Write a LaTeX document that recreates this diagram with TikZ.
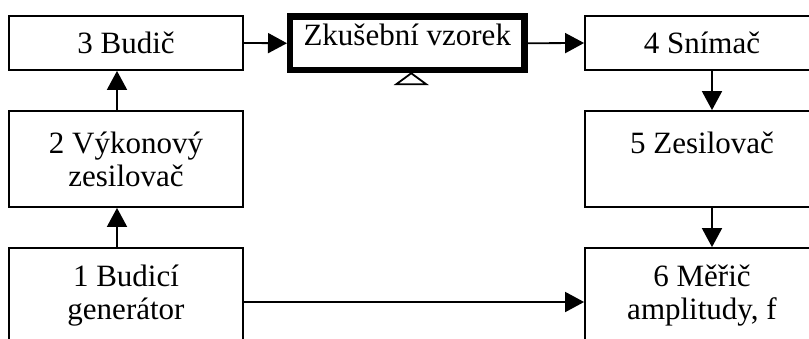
\documentclass[tikz,border=0pt]{standalone}
\usepackage{fontspec}
\setmainfont{Liberation Serif}
\usetikzlibrary{arrows.meta}

\begin{document}
\begin{tikzpicture}[x=1pt,y=-1pt,
	block/.style={draw, line width=1.8pt, minimum width=234pt, inner sep=0pt, align=center, font=\fontsize{31}{33}\selectfont},
	sample/.style={draw, line width=6.5pt, minimum width=234.5pt, inner sep=0pt, outer sep=0pt, text height=28.5pt, text depth=25pt, font=\fontsize{31}{33}\selectfont},
	flow/.style={line width=1.8pt, -{Triangle[length=19pt,width=20pt]}}]
	\useasboundingbox (0,0) rectangle (809,338);
	\clip (0,0) rectangle (809,338);
	
	\node[block, minimum height=54pt] (budic) at (126,43) {3 Budič};
	\node[block, minimum height=96pt] (vykon) at (126,159) {2 Výkonový\\zesilovač};
	\node[block, minimum height=96pt] (gen) at (126,296) {1 Budicí\\generátor};
	\node[block, minimum height=54pt] (snimac) at (702,43) {4 Snímač};
	\node[block, minimum height=96pt] (zesil) at (702,159) {5 Zesilovač\\~};
	\node[block, minimum height=96pt] (meric) at (702,296) {6 Měřič\\amplitudy, f};
	\node[sample, anchor=north west] (vzorek) at (290,16.5) {Zkušební vzorek};
	
	\coordinate (stand) at ([xshift=4pt,yshift=-3.25pt]vzorek.south);
	\draw[line width=1.8pt, fill=white] (stand) -- ++(-15,11) -- ++(30,0) -- cycle;
	
	\draw[flow] ([xshift=-9pt]gen.north) -- ([xshift=-9pt]vykon.south);
	\draw[flow] ([xshift=-9pt]vykon.north) -- ([xshift=-9pt]budic.south);
	\draw[flow, shorten >=3pt] (budic.east) -- (vzorek.west);
	\draw[flow, shorten <=3pt] (vzorek.east) -- (snimac.west);
	\draw[flow] ([xshift=10pt]snimac.south) -- ([xshift=10pt]zesil.north);
	\draw[flow] ([xshift=10pt]zesil.south) -- ([xshift=10pt]meric.north);
	\draw[flow] ([yshift=-6pt]gen.east) -- ([yshift=-6pt]meric.west);

\end{tikzpicture}
\end{document}
